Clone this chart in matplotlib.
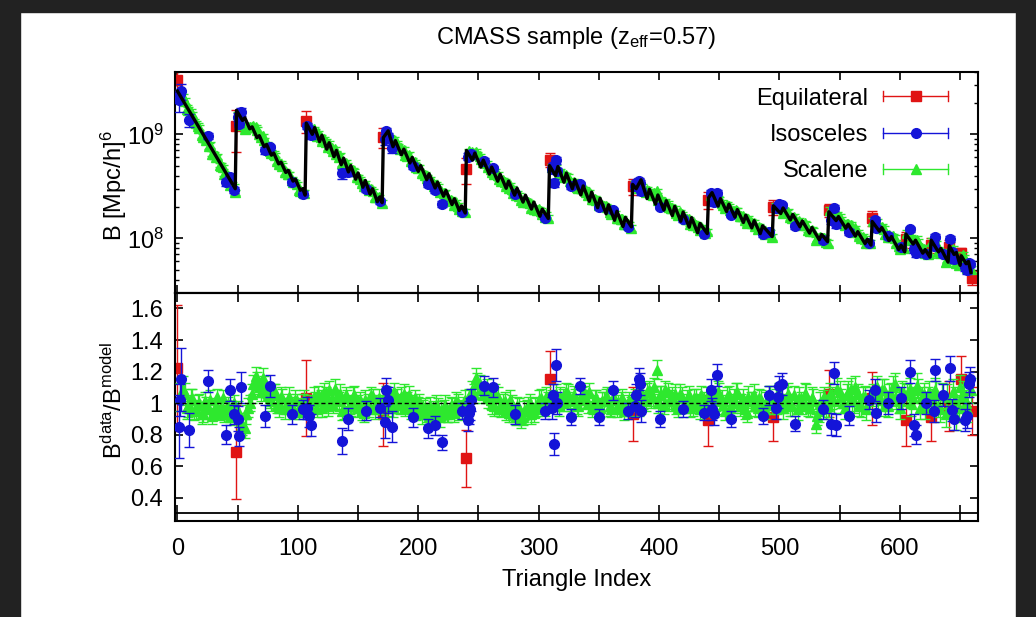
import numpy as np
import matplotlib.pyplot as plt
from matplotlib.lines import Line2D
from matplotlib.legend_handler import HandlerBase
from matplotlib.patches import Rectangle
from matplotlib.ticker import LogLocator, NullFormatter

plt.rcParams['font.family'] = ['Liberation Sans', 'DejaVu Sans']
plt.rcParams['mathtext.fontset'] = 'custom'
plt.rcParams['mathtext.rm'] = 'Liberation Sans'
plt.rcParams['mathtext.it'] = 'Liberation Sans:italic'
plt.rcParams['mathtext.bf'] = 'Liberation Sans:bold'
plt.rcParams['mathtext.default'] = 'rm'

UNIT = 1e8  # bispectrum values below are in units of 1e8 (Mpc/h)^6

# best-fit model, vertices of the curve (triangle index, B)
model_idx = [0, 12, 24, 36, 48,
             49, 54, 56, 60, 62, 66, 68, 72, 74, 78, 80, 84, 86, 90, 92, 96, 98, 102, 104, 106,
             107, 112, 114, 118, 120, 124, 126, 130, 132, 136, 138, 142, 144, 148, 150, 154, 156, 160, 162, 166, 168, 170,
             171, 175, 179, 181, 186, 188, 193, 195, 200, 202, 207, 209, 214, 216, 221, 223, 228, 230, 234, 236, 239,
             240, 245, 247, 252, 254, 259, 261, 266, 268, 273, 275, 280, 282, 287, 289, 294, 296, 301, 303, 308,
             309, 314, 316, 321, 323, 328, 330, 335, 337, 342, 344, 349, 351, 356, 358, 363, 365, 370, 372, 377,
             378, 381, 385, 390, 392, 397, 399, 404, 406, 411, 413, 418, 420, 425, 427, 432, 434, 440,
             441, 444, 449, 451, 456, 458, 463, 465, 470, 472, 477, 479, 484, 486, 494,
             495, 501, 503, 509, 511, 517, 519, 525, 527, 533, 535, 540,
             541, 547, 549, 555, 557, 563, 565, 571, 573, 576,
             577, 583, 585, 591, 593, 599, 601, 604,
             605, 611, 613, 619, 621, 625,
             626, 632, 634, 640,
             641, 645, 647, 650,
             651, 655, 657, 659]
model_B = [26.0, 15.2, 8.85, 5.16, 3.0,
           17.0, 13.6, 14.4, 11.3, 11.8, 9.3, 9.7, 7.6, 8.0, 6.3, 6.6, 5.2, 5.4, 4.3, 4.5, 3.55, 3.7, 2.9, 3.0, 2.6,
           12.8, 10.0, 11.6, 8.5, 9.8, 7.2, 8.3, 6.1, 7.0, 5.1, 5.9, 4.35, 5.0, 3.7, 4.25, 3.1, 3.6, 2.65, 3.0, 2.25, 2.5, 2.2,
           9.3, 10.8, 7.6, 8.7, 6.35, 7.2, 5.3, 6.0, 4.4, 5.0, 3.66, 4.17, 3.05, 3.47, 2.54, 2.89, 2.11, 2.4, 1.85, 2.05, 1.75,
           7.0, 5.64, 6.6, 4.83, 5.65, 4.14, 4.84, 3.54, 4.14, 3.03, 3.55, 2.6, 3.04, 2.23, 2.6, 1.91, 2.23, 1.63, 1.91, 1.55,
           5.0, 4.0, 4.9, 3.46, 4.23, 3.0, 3.67, 2.61, 3.19, 2.27, 2.78, 1.97, 2.42, 1.72, 2.1, 1.49, 1.82, 1.3, 1.59, 1.29,
           3.3, 3.0, 3.65, 2.41, 2.96, 2.13, 2.61, 1.87, 2.3, 1.65, 2.03, 1.46, 1.79, 1.28, 1.58, 1.13, 1.39, 1.11,
           2.45, 2.75, 2.04, 2.41, 1.81, 2.13, 1.6, 1.89, 1.42, 1.67, 1.26, 1.48, 1.11, 1.32, 1.04,
           2.05, 1.73, 1.96, 1.5, 1.7, 1.29, 1.47, 1.12, 1.27, 0.97, 1.09, 0.93,
           1.8, 1.48, 1.62, 1.25, 1.37, 1.05, 1.16, 0.89, 0.98, 0.86,
           1.45, 1.17, 1.27, 0.95, 1.04, 0.78, 0.86, 0.74,
           1.1, 0.88, 0.96, 0.72, 0.78, 0.66,
           0.96, 0.74, 0.8, 0.59,
           0.85, 0.7, 0.73, 0.55,
           0.68, 0.57, 0.6, 0.47]

# equilateral triangles
equi_idx = [0, 49, 107, 171, 240, 309, 378, 441, 495, 541, 577, 605, 626, 641, 651, 660]
equi_B = [33.0, 12.0, 13.5, 9.5, 4.6, 5.7, 3.16, 2.35, 2.02, 1.88, 1.56, 0.98, 0.87, 0.83, 0.72, 0.42]
equi_ratio = [1.22, 0.69, 1.03, 0.93, 0.65, 1.15, 0.93, 0.89, 0.91, 1.06, 1.03, 0.89, 0.91, 0.98, 1.15, 0.95]
equi_err = [0.40, 0.30, 0.24, 0.20, 0.18, 0.18, 0.17, 0.16, 0.15, 0.15, 0.17, 0.16, 0.15, 0.16, 0.15, 0.15]

# isosceles triangles
iso_idx = [1, 2, 3, 10, 25, 40, 44, 47, 50, 51, 53, 73, 77, 95, 104,
           108, 109, 111, 137, 142, 157, 168, 172, 173, 175, 178, 196, 208, 214, 220, 236,
           241, 242, 243, 244, 255, 262, 280, 305, 311, 312, 313, 314, 315, 327, 334, 350, 362, 374,
           380, 381, 383, 384, 385, 401, 420, 437, 443, 444, 446, 448, 460, 486, 491,
           497, 499, 500, 502, 513, 536, 543, 545, 547, 558, 574, 579, 580, 590, 601,
           608, 612, 613, 622, 628, 629, 636, 642, 643, 645, 654, 656, 657, 658]
iso_B = [21.2, 24.3, 26.1, 13.7, 9.65, 3.45, 3.9, 2.93, 14.8, 12.6, 16.5, 7.06, 7.5, 3.47, 2.66,
         12.0, 11.1, 9.8, 4.2, 4.34, 3.0, 2.27, 9.0, 10.7, 9.6, 7.43, 4.92, 3.33, 2.9, 2.15, 1.8,
         6.09, 6.29, 6.29, 6.51, 5.57, 4.71, 2.69, 1.58, 4.66, 4.94, 3.42, 5.61, 4.43, 3.18, 3.36, 2.01, 1.87, 1.29,
         3.2, 3.38, 3.58, 3.42, 2.84, 2.02, 1.53, 1.1, 2.71, 2.37, 2.22, 2.75, 1.69, 1.1, 1.15,
         1.96, 2.03, 2.13, 2.07, 1.31, 0.955, 1.5, 1.96, 1.36, 1.16, 0.91, 1.49, 1.26, 1.05, 0.82,
         1.22, 0.795, 0.72, 0.714, 0.85, 1.04, 0.71, 0.99, 0.737, 0.63, 0.527, 0.497, 0.578, 0.567]
iso_ratio = [0.85, 1.02, 1.15, 0.83, 1.14, 0.80, 1.08, 0.93, 0.90, 0.79, 1.10, 0.92, 1.11, 0.93, 0.96,
             0.97, 0.92, 0.86, 0.76, 0.90, 0.95, 0.97, 0.88, 1.08, 1.02, 0.85, 0.91, 0.84, 0.86, 0.75, 0.95,
             0.89, 0.94, 0.96, 1.02, 1.11, 1.10, 0.93, 0.95, 0.97, 1.05, 0.74, 1.24, 1.00, 0.91, 1.11, 0.91, 1.08, 0.95,
             0.98, 1.05, 1.15, 1.12, 0.95, 0.90, 0.96, 0.94, 1.08, 0.96, 0.93, 1.18, 0.90, 0.92, 1.05,
             0.97, 1.04, 1.11, 1.12, 0.87, 0.96, 0.87, 1.19, 0.86, 0.92, 1.02, 1.08, 0.94, 1.00, 1.03,
             1.20, 0.86, 0.80, 1.00, 0.95, 1.21, 1.05, 1.22, 0.955, 0.90, 0.89, 0.92, 1.12, 1.15]
iso_err = [0.20, 0.10, 0.20, 0.11, 0.07, 0.06, 0.07, 0.06, 0.08, 0.06, 0.10, 0.07, 0.07, 0.06, 0.06,
           0.07, 0.07, 0.07, 0.08, 0.07, 0.06, 0.06, 0.10, 0.08, 0.08, 0.10, 0.06, 0.06, 0.06, 0.05, 0.05,
           0.07, 0.07, 0.07, 0.07, 0.06, 0.06, 0.06, 0.05, 0.07, 0.07, 0.07, 0.10, 0.07, 0.05, 0.05, 0.05, 0.06, 0.05,
           0.07, 0.07, 0.07, 0.07, 0.07, 0.05, 0.05, 0.05, 0.07, 0.07, 0.07, 0.07, 0.05, 0.05, 0.06,
           0.07, 0.07, 0.06, 0.07, 0.05, 0.06, 0.07, 0.07, 0.07, 0.06, 0.06, 0.07, 0.06, 0.07, 0.07,
           0.07, 0.07, 0.06, 0.07, 0.07, 0.07, 0.07, 0.08, 0.07, 0.07, 0.07, 0.08, 0.08, 0.08]

# scalene triangles: index, model value at that index, data/model ratio and its error
scal_idx = [2, 5, 8, 11, 14, 17, 20, 23, 26, 29, 32, 35, 38, 41, 44, 47,
            50, 53, 56, 59, 62, 65, 68, 71, 74, 77, 80, 83, 86, 89, 92, 95, 98, 101, 104,
            110, 113, 116, 119, 122, 125, 128, 131, 134, 137, 140, 143, 146, 149, 152, 155, 158, 161, 164, 167, 170,
            173, 176, 179, 182, 185, 188, 191, 194, 197, 200, 203, 206, 209, 212, 215, 218, 221, 224, 227, 230, 233, 236, 239,
            242, 245, 248, 251, 254, 257, 260, 263, 266, 269, 272, 275, 278, 281, 284, 287, 290, 293, 296, 299, 302, 305, 308,
            311, 314, 317, 320, 323, 326, 329, 332, 335, 338, 341, 344, 347, 350, 353, 356, 359, 362, 365, 368, 371, 374, 377,
            380, 383, 386, 389, 392, 395, 398, 401, 404, 407, 410, 413, 416, 419, 422, 425, 428, 431, 434, 437, 440,
            443, 446, 449, 452, 455, 458, 461, 464, 467, 470, 473, 476, 479, 482, 485, 488, 491, 494,
            497, 500, 503, 506, 509, 512, 515, 518, 521, 524, 527, 530, 533, 536, 539,
            542, 545, 548, 551, 554, 557, 560, 563, 566, 569, 572, 575,
            578, 581, 584, 587, 590, 593, 596, 599, 602,
            608, 611, 614, 617, 620, 623,
            629, 632, 635, 638,
            644, 647, 650,
            653, 656, 659,
            6, 9, 12, 15, 18, 21, 24, 27, 30, 33, 36, 39, 42, 45, 48,
            54, 57, 60, 63, 66, 69, 72, 75, 78, 81, 84, 87, 90, 93, 96, 99, 102, 105,
            114, 117, 120, 123, 126, 129, 132, 135, 138, 141, 144, 147, 150, 153, 156, 159, 162, 165,
            174, 177, 180, 183, 186, 189, 192, 195, 198, 201, 204, 207, 210, 213, 216, 219, 222, 225, 228, 231, 234, 237,
            246, 249, 252, 258, 261, 264, 267, 270, 273, 276, 279, 282, 285, 288, 291, 294, 297, 300, 303, 306,
            318, 321, 324, 330, 333, 336, 339, 342, 345, 348, 351, 354, 357, 360, 363, 366, 369, 372, 375,
            387, 390, 393, 396, 399, 402, 405, 408, 411, 414, 417, 423, 426, 429, 432, 435, 438,
            447, 450, 453, 456, 459, 462, 465, 468, 471, 474, 477, 480, 483, 489, 492,
            498, 501, 504, 507, 510, 516, 519, 522, 525, 528, 531, 534, 537, 540,
            544, 550, 553, 556, 559, 562, 565, 568, 571,
            582, 585, 588, 591, 594, 597, 600, 603,
            606, 609, 615, 618, 621, 624,
            627, 630, 633, 639,
            646, 649,
            652, 655]
scal_model = [23.8, 20.8, 18.2, 15.9, 13.9, 12.1, 10.6, 9.26, 8.09, 7.07, 6.18, 5.40, 4.72, 4.13, 3.61, 3.15,
              16.4, 14.9, 13.5, 12.2, 11.1, 10.0, 9.08, 8.23, 7.46, 6.75, 6.12, 5.54, 5.02, 4.55, 4.12, 3.73, 3.38, 3.06, 2.78,
              11.8, 10.8, 9.96, 9.16, 8.42, 7.75, 7.13, 6.56, 6.03, 5.55, 5.10, 4.69, 4.32, 3.97, 3.65, 3.36, 3.09, 2.84, 2.61, 2.40, 2.21,
              9.94, 9.18, 8.49, 7.85, 7.25, 6.70, 6.19, 5.73, 5.29, 4.89, 4.52, 4.18, 3.86, 3.57, 3.30, 3.05, 2.82, 2.61, 2.41, 2.23, 2.06, 1.90, 1.76,
              6.70, 6.27, 5.87, 5.49, 5.14, 4.81, 4.50, 4.21, 3.94, 3.69, 3.45, 3.23, 3.02, 2.83, 2.65, 2.48, 2.32, 2.17, 2.03, 1.90, 1.78, 1.66, 1.56,
              4.80, 4.52, 4.26, 4.01, 3.78, 3.56, 3.35, 3.16, 2.97, 2.80, 2.63, 2.48, 2.34, 2.20, 2.07, 1.95, 1.84, 1.73, 1.63, 1.53, 1.44, 1.36, 1.28,
              3.28, 3.10, 2.94, 2.79, 2.64, 2.50, 2.37, 2.25, 2.13, 2.02, 1.91, 1.81, 1.72, 1.63, 1.54, 1.46, 1.38, 1.31, 1.24, 1.18, 1.12,
              2.51, 2.39, 2.26, 2.15, 2.04, 1.94, 1.84, 1.75, 1.66, 1.58, 1.50, 1.42, 1.35, 1.28, 1.22, 1.15, 1.10, 1.04,
              2.02, 1.92, 1.81, 1.72, 1.63, 1.54, 1.46, 1.38, 1.31, 1.24, 1.17, 1.11, 1.05, 0.996, 0.943,
              1.76, 1.65, 1.55, 1.46, 1.37, 1.28, 1.20, 1.13, 1.06, 0.994, 0.933, 0.875,
              1.41, 1.31, 1.22, 1.13, 1.05, 0.973, 0.903, 0.838, 0.778,
              1.02, 0.944, 0.875, 0.811, 0.752, 0.697,
              0.864, 0.779, 0.702, 0.632,
              0.735, 0.636, 0.55,
              0.62, 0.54, 0.47,
              19.9, 17.4, 15.2, 13.3, 11.6, 10.1, 8.85, 7.74, 6.76, 5.91, 5.16, 4.51, 3.94, 3.45, 3.01,
              14.4, 13.05, 11.8, 10.7, 9.70, 8.79, 7.96, 7.22, 6.54, 5.92, 5.36, 4.86, 4.40, 3.99, 3.61, 3.27, 2.97, 2.69,
              10.5, 9.68, 8.91, 8.19, 7.54, 6.93, 6.38, 5.86, 5.39, 4.96, 4.56, 4.20, 3.86, 3.55, 3.27, 3.00, 2.76, 2.54,
              9.68, 8.95, 8.27, 7.64, 7.06, 6.53, 6.03, 5.58, 5.16, 4.76, 4.40, 4.07, 3.76, 3.48, 3.21, 2.97, 2.75, 2.54, 2.35, 2.17, 2.00, 1.85,
              6.13, 5.74, 5.37, 4.70, 4.40, 4.12, 3.85, 3.61, 3.37, 3.16, 2.95, 2.77, 2.59, 2.42, 2.27, 2.12, 1.99, 1.86, 1.74, 1.63,
              4.18, 3.93, 3.70, 3.28, 3.09, 2.91, 2.74, 2.58, 2.43, 2.29, 2.16, 2.03, 1.91, 1.80, 1.70, 1.60, 1.50, 1.42, 1.33,
              2.89, 2.74, 2.59, 2.46, 2.33, 2.21, 2.09, 1.98, 1.88, 1.78, 1.69, 1.51, 1.43, 1.36, 1.29, 1.22, 1.16,
              2.34, 2.23, 2.11, 2.01, 1.91, 1.81, 1.72, 1.63, 1.55, 1.47, 1.40, 1.33, 1.26, 1.14, 1.08,
              1.99, 1.88, 1.78, 1.69, 1.60, 1.43, 1.36, 1.28, 1.22, 1.15, 1.09, 1.03, 0.978, 0.926,
              1.69, 1.49, 1.40, 1.31, 1.23, 1.15, 1.08, 1.02, 0.953,
              1.28, 1.19, 1.10, 1.02, 0.949, 0.881, 0.818, 0.759,
              1.07, 0.993, 0.853, 0.791, 0.733, 0.679,
              0.927, 0.835, 0.752, 0.611,
              0.668, 0.577,
              0.649, 0.566]
scal_ratio = [1.04, 1.09, 0.97, 1.02, 0.95, 0.99, 0.93, 1.01, 0.96, 0.92, 0.98, 0.94, 1.03, 0.97, 0.91, 1.00,
              0.95, 0.88, 0.84, 0.97, 1.06, 1.17, 1.10, 1.16, 1.08, 1.03, 1.06, 0.99, 1.04, 0.96, 1.01, 0.98, 1.02, 0.95, 1.00,
              0.99, 1.04, 0.96, 1.02, 1.07, 0.98, 1.03, 1.09, 1.01, 0.95, 1.05, 0.99, 1.04, 0.97, 1.02, 0.94, 1.00, 1.05, 0.96, 1.03, 0.99,
              1.05, 1.02, 0.97, 1.04, 0.99, 1.06, 1.01, 0.96, 1.03, 0.98, 0.93, 0.97, 0.92, 0.95, 0.99, 0.91, 0.96, 0.93, 0.98, 0.94, 1.00, 0.96, 1.02,
              1.03, 1.08, 1.16, 1.12, 1.05, 1.09, 1.02, 0.98, 1.04, 0.96, 1.01, 0.94, 0.99, 0.92, 0.97, 0.91, 0.96, 1.00, 0.94, 0.98, 1.03, 0.97, 1.01,
              1.02, 1.06, 0.98, 1.04, 1.07, 1.01, 1.05, 0.99, 1.03, 1.06, 1.00, 0.97, 1.02, 0.96, 1.01, 1.04, 0.98, 1.03, 0.97, 1.01, 0.95, 1.00, 0.98,
              1.03, 0.98, 1.06, 1.01, 1.08, 1.04, 1.21, 1.05, 0.99, 1.07, 1.02, 1.06, 0.97, 1.04, 1.00, 1.05, 0.98, 1.03, 0.96, 1.01, 1.04,
              1.04, 0.97, 1.07, 1.02, 0.95, 1.05, 1.00, 1.06, 0.98, 1.03, 0.94, 1.01, 1.05, 0.97, 1.02, 0.96, 1.04, 0.99,
              1.02, 1.07, 0.97, 1.04, 0.99, 1.05, 0.96, 1.01, 1.06, 0.98, 1.03, 0.87, 0.95, 1.02, 0.97,
              1.06, 1.01, 1.09, 1.03, 0.97, 1.07, 1.02, 1.10, 0.99, 1.04, 0.96, 1.03,
              1.05, 1.10, 1.02, 1.08, 0.98, 1.06, 1.12, 1.01, 1.07,
              1.09, 1.03, 1.11, 0.97, 1.06, 1.02,
              1.08, 0.98, 1.05, 0.93,
              1.07, 0.91, 1.10,
              1.04, 0.96, 1.08,
              1.06, 0.98, 1.03, 0.96, 1.00, 0.94, 0.99, 1.02, 0.95, 1.04, 0.97, 0.93, 0.99, 0.96, 0.92,
              0.86, 0.93, 1.00, 1.12, 1.14, 1.07, 1.12, 1.05, 1.01, 1.07, 0.97, 1.03, 0.98, 1.04, 0.96, 1.01, 0.97, 1.02,
              1.01, 1.06, 0.97, 1.04, 1.08, 0.99, 1.02, 1.06, 0.96, 1.03, 0.98, 1.05, 1.00, 0.95, 1.02, 0.97, 1.04, 0.99,
              0.98, 1.03, 1.07, 1.00, 1.04, 0.97, 1.05, 0.99, 0.95, 1.01, 0.96, 0.94, 0.98, 0.92, 0.97, 0.95, 0.99, 0.93, 0.97, 1.01, 0.95, 0.99,
              1.06, 1.13, 1.08, 1.03, 0.99, 1.06, 0.97, 1.00, 0.95, 1.02, 0.93, 0.98, 0.90, 0.95, 0.99, 0.93, 0.97, 1.02, 0.98, 1.04,
              1.04, 1.00, 1.06, 1.03, 0.98, 1.05, 1.02, 1.07, 0.99, 1.03, 0.97, 1.01, 1.04, 0.96, 1.02, 0.99, 1.03, 0.97, 1.01,
              1.02, 1.07, 1.03, 1.10, 1.00, 1.05, 1.08, 1.01, 1.04, 0.99, 1.06, 1.02, 0.97, 1.03, 1.00, 1.05, 0.98,
              1.01, 1.06, 0.99, 1.04, 0.97, 1.02, 1.07, 1.00, 0.96, 1.04, 1.01, 0.98, 1.03, 1.00, 1.05,
              0.99, 1.04, 1.00, 1.06, 0.98, 1.03, 0.99, 1.05, 0.97, 1.02, 0.92, 1.00, 1.04, 0.98,
              1.03, 1.07, 1.00, 1.05, 1.09, 1.01, 1.06, 0.98, 1.04,
              1.03, 1.08, 0.99, 1.05, 1.10, 1.03, 0.97, 1.06,
              1.05, 1.00, 1.08, 1.03, 0.98, 1.07,
              1.02, 1.06, 0.96, 1.04,
              1.02, 0.97,
              1.06, 1.00]
scal_err = [0.09, 0.08, 0.07, 0.07, 0.06, 0.06, 0.06, 0.06, 0.06, 0.05, 0.05, 0.05, 0.05, 0.05, 0.05, 0.05,
            0.06, 0.06, 0.06, 0.06, 0.06, 0.06, 0.06, 0.06, 0.05, 0.06, 0.06, 0.05, 0.06, 0.06, 0.05, 0.06, 0.06, 0.05, 0.06,
            0.06, 0.06, 0.05, 0.06, 0.06, 0.06, 0.05, 0.06, 0.06, 0.06, 0.05, 0.06, 0.06, 0.06, 0.05, 0.06, 0.06, 0.05, 0.06, 0.06, 0.06,
            0.06, 0.06, 0.06, 0.05, 0.06, 0.06, 0.06, 0.06, 0.05, 0.06, 0.06, 0.06, 0.05, 0.06, 0.06, 0.06, 0.06, 0.05, 0.06, 0.06, 0.06, 0.06, 0.06,
            0.06, 0.06, 0.06, 0.06, 0.05, 0.06, 0.06, 0.06, 0.06, 0.05, 0.06, 0.06, 0.06, 0.06, 0.06, 0.05, 0.06, 0.06, 0.06, 0.06, 0.06, 0.05, 0.06,
            0.06, 0.06, 0.06, 0.05, 0.06, 0.06, 0.06, 0.06, 0.06, 0.05, 0.06, 0.06, 0.06, 0.06, 0.06, 0.05, 0.06, 0.06, 0.06, 0.06, 0.06, 0.05, 0.06,
            0.06, 0.06, 0.06, 0.06, 0.06, 0.06, 0.06, 0.06, 0.06, 0.06, 0.06, 0.06, 0.06, 0.06, 0.06, 0.06, 0.06, 0.06, 0.06, 0.06, 0.06,
            0.06, 0.06, 0.07, 0.06, 0.06, 0.06, 0.06, 0.07, 0.06, 0.06, 0.06, 0.06, 0.07, 0.06, 0.06, 0.06, 0.07, 0.06,
            0.07, 0.06, 0.07, 0.06, 0.07, 0.06, 0.07, 0.06, 0.07, 0.06, 0.07, 0.06, 0.07, 0.06, 0.07,
            0.07, 0.07, 0.07, 0.06, 0.07, 0.07, 0.07, 0.07, 0.07, 0.06, 0.07, 0.07,
            0.07, 0.07, 0.07, 0.07, 0.07, 0.07, 0.07, 0.07, 0.07,
            0.07, 0.07, 0.08, 0.07, 0.07, 0.08,
            0.08, 0.07, 0.08, 0.08,
            0.08, 0.08, 0.08,
            0.08, 0.08, 0.08,
            0.07, 0.07, 0.06, 0.06, 0.06, 0.06, 0.05, 0.06, 0.05, 0.05, 0.05, 0.05, 0.05, 0.05, 0.05,
            0.06, 0.06, 0.05, 0.06, 0.06, 0.06, 0.05, 0.06, 0.06, 0.05, 0.06, 0.06, 0.05, 0.06, 0.06, 0.05, 0.06, 0.06,
            0.06, 0.05, 0.06, 0.06, 0.06, 0.05, 0.06, 0.06, 0.06, 0.05, 0.06, 0.06, 0.05, 0.06, 0.06, 0.06, 0.05, 0.06,
            0.06, 0.05, 0.06, 0.06, 0.06, 0.05, 0.06, 0.06, 0.06, 0.05, 0.06, 0.06, 0.06, 0.05, 0.06, 0.06, 0.06, 0.05, 0.06, 0.06, 0.06, 0.05,
            0.06, 0.06, 0.05, 0.06, 0.06, 0.06, 0.05, 0.06, 0.06, 0.06, 0.05, 0.06, 0.06, 0.06, 0.05, 0.06, 0.06, 0.06, 0.05, 0.06,
            0.06, 0.05, 0.06, 0.06, 0.06, 0.05, 0.06, 0.06, 0.06, 0.05, 0.06, 0.06, 0.06, 0.05, 0.06, 0.06, 0.06, 0.05, 0.06,
            0.06, 0.06, 0.06, 0.06, 0.06, 0.06, 0.06, 0.06, 0.06, 0.06, 0.06, 0.06, 0.06, 0.06, 0.06, 0.06, 0.06,
            0.06, 0.07, 0.06, 0.06, 0.06, 0.07, 0.06, 0.06, 0.06, 0.07, 0.06, 0.06, 0.06, 0.07, 0.06,
            0.06, 0.07, 0.06, 0.07, 0.06, 0.07, 0.06, 0.07, 0.06, 0.07, 0.06, 0.07, 0.06, 0.07,
            0.07, 0.07, 0.06, 0.07, 0.07, 0.07, 0.06, 0.07, 0.07,
            0.07, 0.07, 0.07, 0.07, 0.07, 0.07, 0.07, 0.07,
            0.07, 0.08, 0.07, 0.07, 0.08, 0.07,
            0.07, 0.08, 0.08, 0.08,
            0.08, 0.08,
            0.08, 0.08]

x_ticks = np.arange(0, 651, 50)
x_labels = [str(t) if t % 100 == 0 else '' for t in x_ticks]

RED, BLUE, GREEN = '#e01414', '#1414d8', '#2ee82e'
FS = 17


class ErrorKey(HandlerBase):
    """gnuplot style key sample: horizontal bar with end caps and a point"""

    def create_artists(self, legend, orig_handle, xdescent, ydescent,
                       width, height, fontsize, trans):
        c = orig_handle.get_color()
        y = height / 2 - ydescent
        x0, x1 = -xdescent, width - xdescent
        cap = 3.6
        bar = Line2D([x0, x1], [y, y], color=c, lw=1.0)
        caps = Line2D([x0, x0, np.nan, x1, x1], [y - cap, y + cap, np.nan, y - cap, y + cap],
                      color=c, lw=1.0)
        mark = Line2D([(x0 + x1) / 2], [y], marker=orig_handle.get_marker(),
                      ms=orig_handle.get_markersize(), color=c, ls='none')
        for a in (bar, caps, mark):
            a.set_transform(trans)
        return [bar, caps, mark]


def points(ax, x, y, yerr, color, marker, ms, z):
    ax.errorbar(x, y, yerr=yerr, fmt=marker, color=color, mec=color, ms=ms,
                elinewidth=1.0, capsize=3.6, capthick=1.0, zorder=z)


equi_B = np.array(equi_B) * UNIT
iso_B = np.array(iso_B) * UNIT
scal_ratio = np.array(scal_ratio)
scal_B = np.array(scal_model) * scal_ratio * UNIT

fig = plt.figure(figsize=(10.36, 6.17), dpi=100)
ax1 = fig.add_axes([0.1692, 0.5256, 0.7745, 0.3582])
ax2 = fig.add_axes([0.1692, 0.1551, 0.7745, 0.3705])

# upper panel: bispectrum (scalene underneath, isosceles on top)
points(ax1, equi_idx, equi_B, equi_B * np.array(equi_err) / np.array(equi_ratio), RED, 's', 6.5, 2)
points(ax1, scal_idx, scal_B, scal_B * np.array(scal_err) / scal_ratio, GREEN, '^', 7, 3)
points(ax1, iso_idx, iso_B, iso_B * np.array(iso_err) / np.array(iso_ratio), BLUE, 'o', 7, 4)
ax1.plot(model_idx, np.array(model_B) * UNIT, color='k', lw=2.4, zorder=5)

ax1.set_yscale('log')
ax1.set_ylim(3e7, 4e9)
ax1.set_xlim(-1.8, 664.6)
ax1.set_yticks([1e8, 1e9])
ax1.set_yticklabels(['10$^{8}$', '10$^{9}$'])
ax1.yaxis.set_minor_locator(LogLocator(base=10, subs=np.arange(2, 10)))
ax1.yaxis.set_minor_formatter(NullFormatter())
ax1.set_xticks(x_ticks)
ax1.set_xticklabels([])
ax1.tick_params(which='major', direction='in', length=6, width=1.2, top=True, right=True,
                labelsize=FS, pad=8)
ax1.tick_params(which='minor', direction='in', length=3, width=1.0, right=True)

handles = [Line2D([], [], color=RED, marker='s', ms=6.5),
           Line2D([], [], color=BLUE, marker='o', ms=7),
           Line2D([], [], color=GREEN, marker='^', ms=7)]
ax1.legend(handles, ['Equilateral', 'Isosceles', 'Scalene'], handler_map={Line2D: ErrorKey()},
           loc='upper right', bbox_to_anchor=(0.963, 0.928), frameon=False, markerfirst=False,
           handlelength=2.75, handletextpad=0.64, labelspacing=0.6, borderpad=0,
           borderaxespad=0, fontsize=FS)

# lower panel: data / model
points(ax2, equi_idx, equi_ratio, equi_err, RED, 's', 6.5, 2)
points(ax2, scal_idx, scal_ratio, scal_err, GREEN, '^', 7, 3)
points(ax2, iso_idx, iso_ratio, iso_err, BLUE, 'o', 7, 4)
ax2.axhline(1.0, color='k', lw=1.0, ls=(0, (3, 2)), zorder=6)
ax2.axhline(0.3, color='k', lw=1.3, zorder=6)

ax2.set_xlim(-1.8, 664.6)
ax2.set_ylim(0.25, 1.7)
ax2.set_yticks([0.4, 0.6, 0.8, 1.0, 1.2, 1.4, 1.6])
ax2.set_yticklabels(['0.4', '0.6', '0.8', '1', '1.2', '1.4', '1.6'])
ax2.set_xticks(x_ticks)
ax2.set_xticklabels(x_labels)
ax2.tick_params(axis='y', direction='in', length=6, width=1.2, right=True, labelsize=FS, pad=9)
ax2.tick_params(axis='x', direction='in', length=11.5, width=1.2, top=False, labelsize=FS, pad=12)
top = ax2.secondary_xaxis('top')
top.set_xticks(x_ticks)
top.tick_params(direction='in', length=6.5, width=1.2, labeltop=False)

for ax in (ax1, ax2, top):
    for s in ax.spines.values():
        s.set_linewidth(1.5)

fig.text(0.5565, 1 - 44 / 617, 'CMASS sample (z$_{eff}$=0.57)', ha='center', va='baseline', fontsize=FS)
fig.text(0.5565, 1 - 586 / 617, 'Triangle Index', ha='center', va='baseline', fontsize=FS)
fig.text(114 / 1036, 1 - 186 / 617, 'B [Mpc/h]$^{6}$', rotation=90, ha='center', va='center', fontsize=FS)
fig.text(114 / 1036, 1 - 400 / 617, 'B$^{data}$/B$^{model}$', rotation=90, ha='center', va='center', fontsize=FS)

# dark screen frame around the plot
for r in [(0, 1 - 12 / 617, 1, 12 / 617), (0, 0, 20 / 1036, 1), (1016 / 1036, 0, 20 / 1036, 1)]:
    fig.patches.append(Rectangle(r[:2], r[2], r[3], transform=fig.transFigure,
                                 color='#222222', zorder=10))

fig.savefig('out.png', dpi=100)
